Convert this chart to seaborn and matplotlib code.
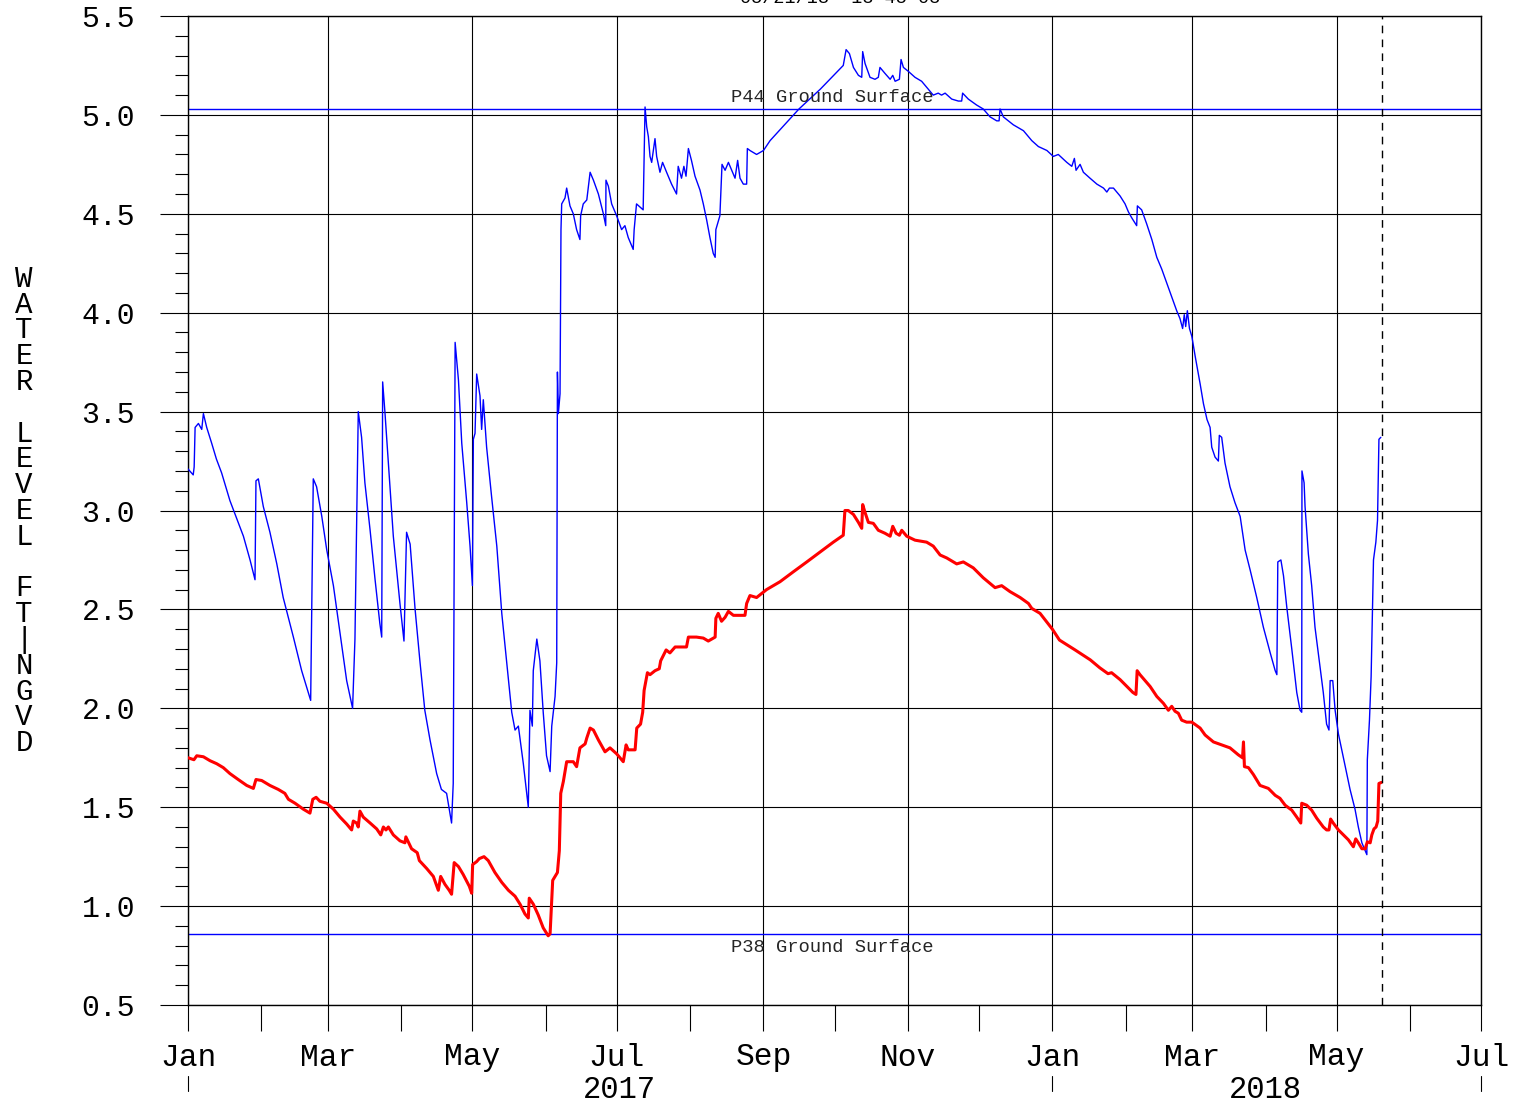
import matplotlib
matplotlib.use('Agg')
import matplotlib.pyplot as plt
import matplotlib.dates as mdates
import matplotlib.transforms as mtransforms
from matplotlib.ticker import MultipleLocator, FormatStrFormatter
import seaborn as sns
import pandas as pd

START = pd.Timestamp('2017-01-01')

# P44 water level (blue) - days since 1 Jan 2017, ft NGVD
p44_day = [0, 1.5, 2.2, 2.6, 3.0, 4.4, 5.8, 6.5, 7.9, 10, 12, 14.2, 17.7, 21.2,
           23.4, 26.2, 28.3, 28.7, 29.7, 31.8, 34.6, 37.5, 40.2, 44.5, 48, 50.8,
           51.8, 52.9, 54.3, 56.5, 58.6, 61.4, 64.2, 67, 69.5, 70.5, 71.9, 73.3,
           74.7, 76.9, 79, 81, 81.8, 82.2, 83.2, 84.6, 86.7, 89.5, 91.2, 92.3,
           93.8, 95.9, 98, 100, 102.2, 105, 107, 109.2, 111.3, 112, 112.8, 114.2,
           115.6, 117.7, 119.1, 120.1, 120.5, 121.2, 121.9, 123.3, 124, 124.7,
           126.1, 128.2, 130.4, 132.5, 134.6, 136.7, 138.1, 139.5, 141.6, 143.7,
           144.4, 145.4, 145.8, 147.3, 148.6, 150, 151.4, 152.9, 153.6, 155,
           155.7, 156, 156.4, 157.1, 157.5, 157.8, 159.2, 159.9, 161.3, 162.7,
           164.1, 165.5, 165.8, 166.9, 168.4, 169.8, 171.2, 173.3, 175.4, 176.4,
           176.5, 177.5, 178.9, 181, 183.1, 184.5, 185.9, 188, 188.4, 189.4,
           192.2, 193, 193.7, 194.4, 195.1, 195.8, 197.2, 197.9, 199.3, 200.4,
           202.1, 204.2, 206.3, 207, 208.4, 209.4, 210.3, 211.3, 212.6, 214.1,
           216.2, 217.6, 219, 220.4, 221.8, 222.6, 222.9, 224.6, 225.5, 226.8,
           228.2, 229.6, 231, 232.1, 233.1, 234.5, 235.9, 236.2, 237.3, 240.1,
           243, 245.8, 258, 267, 276.7, 277.9, 279.3, 281, 283.1, 284.5, 284.9,
           285.9, 288, 290.1, 291.5, 292.2, 294.3, 296.5, 297.6, 298.6, 300.4,
           301.1, 302.1, 304.2, 307, 309.8, 312.6, 314.7, 316.8, 318.2, 319.7,
           322.5, 325.3, 326.7, 327.1, 329.5, 333, 335.8, 338.7, 341.5, 342.5,
           342.9, 344.3, 348.5, 352.8, 356.3, 359.1, 362.7, 365.4, 367.5, 371.1,
           373.2, 374.3, 375, 376.7, 378.1, 380.9, 383.8, 386.6, 388, 389.1,
           390.8, 393.6, 395.7, 397.1, 398.5, 400.6, 400.9, 402.7, 404.8, 407,
           409.1, 411.2, 413.3, 415.4, 417.5, 418.9, 420, 420.7, 421.3, 422,
           422.9, 423.9, 425.3, 427.4, 428.8, 430.3, 431.6, 432.3, 433.7, 435.1,
           435.5, 436.5, 437.9, 440, 442.1, 444.3, 446.4, 448.5, 451.3, 454.1,
           457, 459.1, 459.8, 460.2, 461.5, 462.6, 464, 466.1, 468.2, 469.6,
           470.3, 470.4, 471.3, 471.7, 473.1, 474.5, 475.9, 478, 479.4, 480.8,
           481.8, 482.3, 483.4, 484.4, 485.8, 487.2, 488.6, 490.7, 492.8, 494.2,
           495.7, 497.1, 497.8, 498, 498.9, 499.6, 500.2, 500.6, 501.6, 502.3,
           502.9, 503.7]
p44_ft = [3.21, 3.19, 3.18, 3.22, 3.42, 3.44, 3.41, 3.49, 3.42, 3.34, 3.26, 3.19,
          3.05, 2.94, 2.87, 2.75, 2.65, 3.15, 3.16, 3.02, 2.89, 2.73, 2.56, 2.36,
          2.19, 2.08, 2.04, 3.16, 3.12, 2.97, 2.80, 2.62, 2.38, 2.14, 2.00, 2.35,
          3.50, 3.37, 3.14, 2.90, 2.65, 2.43, 2.36, 3.65, 3.49, 3.24, 2.87, 2.53,
          2.34, 2.89, 2.83, 2.50, 2.23, 1.99, 1.84, 1.67, 1.59, 1.57, 1.42, 1.62,
          3.85, 3.66, 3.34, 3.04, 2.82, 2.62, 3.36, 3.39, 3.69, 3.58, 3.41, 3.56,
          3.32, 3.07, 2.82, 2.48, 2.23, 1.98, 1.89, 1.91, 1.72, 1.50, 1.99, 1.91,
          2.19, 2.35, 2.24, 1.98, 1.76, 1.68, 1.91, 2.06, 2.23, 3.70, 3.49, 3.59,
          4.42, 4.55, 4.58, 4.63, 4.54, 4.50, 4.42, 4.37, 4.49, 4.55, 4.57, 4.71,
          4.67, 4.60, 4.50, 4.44, 4.67, 4.64, 4.55, 4.49, 4.42, 4.44, 4.38, 4.32,
          4.42, 4.55, 4.52, 5.04, 4.94, 4.89, 4.79, 4.76, 4.88, 4.79, 4.71, 4.76,
          4.71, 4.65, 4.60, 4.74, 4.68, 4.74, 4.69, 4.83, 4.77, 4.69, 4.62, 4.55,
          4.47, 4.38, 4.30, 4.28, 4.42, 4.49, 4.75, 4.72, 4.76, 4.72, 4.68, 4.77,
          4.68, 4.65, 4.65, 4.83, 4.82, 4.80, 4.82, 4.87, 5.03, 5.13, 5.25, 5.33,
          5.31, 5.24, 5.20, 5.19, 5.32, 5.26, 5.19, 5.18, 5.19, 5.24, 5.21, 5.18,
          5.20, 5.17, 5.18, 5.28, 5.24, 5.22, 5.19, 5.17, 5.13, 5.10, 5.11, 5.10,
          5.11, 5.08, 5.07, 5.07, 5.11, 5.08, 5.05, 5.03, 4.99, 4.97, 4.97, 5.03,
          4.99, 4.95, 4.92, 4.87, 4.84, 4.82, 4.79, 4.80, 4.76, 4.74, 4.78, 4.72,
          4.75, 4.71, 4.68, 4.65, 4.63, 4.61, 4.63, 4.63, 4.59, 4.55, 4.51, 4.48,
          4.44, 4.54, 4.52, 4.45, 4.37, 4.28, 4.22, 4.15, 4.08, 4.01, 3.97, 3.92,
          3.99, 3.93, 4.01, 3.92, 3.88, 3.78, 3.64, 3.54, 3.46, 3.42, 3.32, 3.27,
          3.25, 3.38, 3.37, 3.24, 3.12, 3.04, 2.97, 2.80, 2.70, 2.56, 2.41, 2.28,
          2.19, 2.17, 2.74, 2.75, 2.67, 2.51, 2.30, 2.08, 1.99, 1.98, 3.20, 3.14,
          3.02, 2.78, 2.62, 2.41, 2.21, 2.08, 1.92, 1.89, 2.14, 2.14, 1.99, 1.87,
          1.79, 1.71, 1.59, 1.49, 1.40, 1.32, 1.28, 1.26, 1.74, 1.94, 2.16, 2.50,
          2.75, 2.84, 2.95, 3.36, 3.37]

# P38 water level (red)
p38_day = [0, 2.5, 3.7, 6.5, 9.3, 12.1, 14.9, 17.7, 21.2, 24.8, 27.6, 28.7, 31.1,
           34.6, 38.1, 40.9, 42.4, 45.2, 48.7, 51.5, 52.7, 54.1, 55.7, 58.6, 61.4,
           64.2, 67, 69.1, 69.8, 71.2, 71.9, 72.6, 74, 76.9, 79.7, 81.4, 82.5,
           83.6, 84.6, 86.7, 89.5, 91.6, 92, 94.4, 96.8, 97.7, 100.8, 103.6,
           105.7, 106.7, 108.5, 110.3, 111.3, 112.4, 114.2, 116.2, 118.8, 119.8,
           120.2, 121.9, 123, 125, 126.8, 129.6, 132.5, 135.3, 138.1, 140.2,
           142.3, 143.7, 144.1, 145.8, 147.9, 150, 152.1, 152.9, 153.3, 154, 156,
           156.8, 157.4, 158.5, 159.9, 162.7, 164.1, 165.5, 167.7, 168.4, 169.8,
           171.2, 173.3, 176.1, 178.2, 181, 183.8, 185, 185.9, 188.8, 189.5,
           191.1, 192, 192.6, 194, 195.1, 197.2, 199, 199.6, 201.9, 203.5, 205.7,
           210.5, 211.3, 214.7, 217.6, 219.7, 222.6, 222.9, 223.9, 225.3, 226.8,
           228.2, 230.3, 235.2, 235.9, 237.3, 240.1, 244.3, 250, 255.6, 261.3,
           266.9, 272.5, 276.7, 277.4, 278.8, 281, 283.1, 284.5, 284.9, 285.9,
           287.3, 289.4, 291.5, 294.3, 296.5, 297.6, 299, 300.4, 301.4, 303.5,
           307, 311.9, 314.7, 317.6, 320.4, 324.6, 327.4, 331.6, 335.8, 340.8,
           343.6, 347.1, 351.4, 354.9, 356.3, 359.8, 365, 368, 374.6, 381, 385,
           388.5, 390, 393.6, 399, 400.3, 400.8, 402, 406.3, 409.1, 411.9, 414,
           415.4, 416.8, 418.2, 419.6, 421.7, 423.9, 427.4, 429.5, 433, 436.5,
           440, 443.5, 445.3, 445.7, 446.1, 447.8, 449.9, 452.7, 456.2, 459.1,
           461.1, 463.3, 466.1, 468.2, 469.9, 470.3, 472.4, 474.5, 476.6, 479.4,
           480.8, 481.8, 482.5, 483.6, 485.8, 487.9, 490, 492.1, 493.1, 494.2,
           495.7, 497.1, 498, 499.2, 499.9, 500.8, 501.7, 502.4, 502.9, 503.9]
p38_ft = [1.75, 1.74, 1.76, 1.755, 1.735, 1.72, 1.70, 1.67, 1.64, 1.61, 1.595,
          1.64, 1.635, 1.61, 1.59, 1.57, 1.54, 1.52, 1.49, 1.47, 1.54, 1.55, 1.53,
          1.52, 1.49, 1.45, 1.415, 1.385, 1.43, 1.42, 1.40, 1.48, 1.45, 1.42, 1.39,
          1.36, 1.40, 1.385, 1.40, 1.36, 1.33, 1.32, 1.35, 1.29, 1.27, 1.23, 1.19,
          1.15, 1.08, 1.15, 1.11, 1.08, 1.06, 1.22, 1.20, 1.16, 1.10, 1.065, 1.21,
          1.225, 1.24, 1.25, 1.23, 1.17, 1.12, 1.08, 1.05, 1.01, 0.96, 0.94, 1.04,
          1.01, 0.955, 0.89, 0.85, 0.86, 0.955, 1.13, 1.17, 1.28, 1.57, 1.63, 1.73,
          1.73, 1.705, 1.80, 1.82, 1.85, 1.90, 1.89, 1.84, 1.78, 1.80, 1.77, 1.73,
          1.815, 1.79, 1.79, 1.90, 1.92, 1.98, 2.09, 2.18, 2.17, 2.19, 2.20, 2.24,
          2.295, 2.28, 2.31, 2.31, 2.36, 2.36, 2.355, 2.34, 2.36, 2.455, 2.48, 2.44,
          2.46, 2.49, 2.47, 2.47, 2.53, 2.57, 2.56, 2.60, 2.64, 2.69, 2.74, 2.79,
          2.84, 2.875, 3.00, 3.00, 2.98, 2.94, 2.91, 3.03, 2.99, 2.94, 2.935, 2.90,
          2.885, 2.87, 2.92, 2.885, 2.875, 2.90, 2.87, 2.85, 2.84, 2.82, 2.775,
          2.76, 2.73, 2.74, 2.71, 2.66, 2.61, 2.62, 2.59, 2.56, 2.53, 2.505, 2.48,
          2.40, 2.345, 2.295, 2.245, 2.205, 2.175, 2.18, 2.145, 2.08, 2.07, 2.19,
          2.17, 2.11, 2.06, 2.025, 1.99, 2.01, 1.985, 1.975, 1.94, 1.93, 1.93, 1.90,
          1.865, 1.83, 1.815, 1.80, 1.765, 1.75, 1.83, 1.705, 1.70, 1.665, 1.61,
          1.595, 1.56, 1.545, 1.51, 1.485, 1.45, 1.42, 1.52, 1.51, 1.485, 1.445,
          1.40, 1.385, 1.385, 1.44, 1.42, 1.385, 1.36, 1.335, 1.30, 1.34, 1.32,
          1.29, 1.29, 1.325, 1.32, 1.36, 1.39, 1.40, 1.43, 1.62, 1.625]

P44_GROUND = 5.03
P38_GROUND = 0.86
LAST_DATE = '2018-05-20'
STAMP = '05/21/18  13 45 03'
Y_LABEL = 'WATER LEVEL FT|NGVD'


def to_frame(days, values):
    return pd.DataFrame({
        'date': START + pd.to_timedelta(days, unit='D'),
        'ft': values})


sns.set_theme(style='white')
plt.rcParams['font.family'] = ['Liberation Mono', 'DejaVu Sans']

W, H = 1517, 1102
fig = plt.figure(figsize=(W / 100, H / 100), dpi=100)
fig.patch.set_facecolor('white')
ax = fig.add_axes([188 / W, 1 - 1005 / H, (1481 - 188) / W, (1005 - 16) / H])

ax.axhline(P44_GROUND, color='blue', lw=1.0, zorder=2)
ax.axhline(P38_GROUND, color='blue', lw=1.0, zorder=2)

sns.lineplot(data=to_frame(p44_day, p44_ft), x='date', y='ft', ax=ax,
             color='blue', lw=1.0, sort=False, zorder=3)
sns.lineplot(data=to_frame(p38_day, p38_ft), x='date', y='ft', ax=ax,
             color='red', lw=2.2, sort=False, zorder=4)

ax.axvline(pd.Timestamp(LAST_DATE), color='black', lw=1.0,
           ls=(0, (5.5, 4.5)), zorder=5)

label_x = pd.Timestamp('2017-09-30')
ax.annotate('P44 Ground Surface', (label_x, P44_GROUND), xytext=(0, 2),
            textcoords='offset points', ha='center', va='bottom', fontsize=13.5)
ax.annotate('P38 Ground Surface', (label_x, P38_GROUND), xytext=(0, -4),
            textcoords='offset points', ha='center', va='top', fontsize=13.5)

# axes
ax.set_xlim(pd.Timestamp('2017-01-01'), pd.Timestamp('2018-07-01'))
ax.set_ylim(0.5, 5.5)
ax.xaxis.set_major_locator(mdates.MonthLocator(bymonth=[1, 3, 5, 7, 9, 11]))
ax.xaxis.set_minor_locator(mdates.MonthLocator(bymonth=[2, 4, 6, 8, 10, 12]))
ax.xaxis.set_major_formatter(mdates.DateFormatter('%b'))
ax.yaxis.set_major_locator(MultipleLocator(0.5))
ax.yaxis.set_minor_locator(MultipleLocator(0.1))
ax.yaxis.set_major_formatter(FormatStrFormatter('%.1f'))
ax.set_xlabel('')
ax.set_ylabel('')

ax.grid(which='major', color='black', lw=0.8, zorder=1)
ax.set_axisbelow(True)
for s in ax.spines.values():
    s.set_color('black')
    s.set_linewidth(1.0)

ax.tick_params(axis='x', which='both', bottom=True, direction='out',
               length=19, width=0.8, color='black', pad=8, labelsize=22.5,
               labelcolor='black')
ax.tick_params(axis='y', which='major', left=True, direction='out',
               length=20, width=0.8, color='black', pad=18, labelsize=21.5,
               labelcolor='black')
ax.tick_params(axis='y', which='minor', left=True, direction='out',
               length=9.5, width=0.8, color='black')

# year row under the month labels
blend = mtransforms.blended_transform_factory(ax.transData, ax.transAxes)
for year, mid in [('2017', '2017-07-02'), ('2018', '2018-04-01')]:
    ax.text(pd.Timestamp(mid), -0.0855, year, transform=blend, ha='center',
            va='center', fontsize=22, color='black')
for edge in ['2017-01-01', '2018-01-01', '2018-07-01']:
    ax.plot([pd.Timestamp(edge)] * 2, [-0.072, -0.087], transform=blend,
            color='black', lw=0.8, clip_on=False)

fig.text(24 / W, 1 - 511 / H, '\n'.join(Y_LABEL), ha='center', va='center',
         fontsize=21, linespacing=0.9, color='black')
fig.text(840 / W, 1 - 3 / H, STAMP, ha='center', va='baseline',
         fontsize=13.3, color='black')

fig.savefig('out.png', dpi=100, facecolor='white')
